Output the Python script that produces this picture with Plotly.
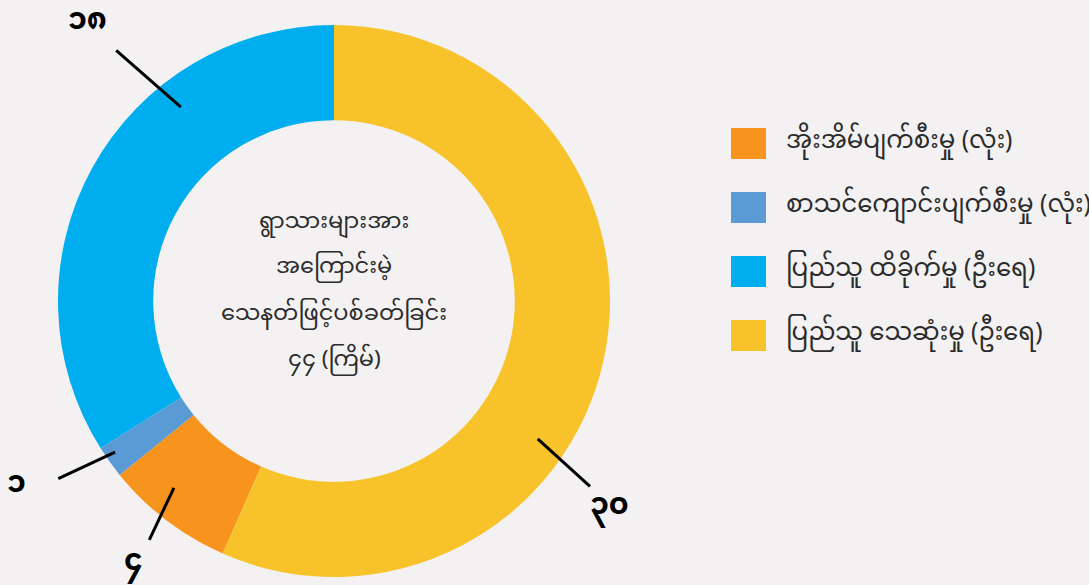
import math
import plotly.graph_objects as go

# slice order goes clockwise from the orange slice
LABELS = [
    "အိုးအိမ်ပျက်စီးမှု (လုံး)",
    "စာသင်ကျောင်းပျက်စီးမှု (လုံး)",
    "ပြည်သူ ထိခိုက်မှု (ဦးရေ)",
    "ပြည်သူ သေဆုံးမှု (ဦးရေ)",
]
VALUES = [4, 1, 18, 30]
VALUE_TEXT = ["၄", "၁", "၁၈", "၃၀"]
COLORS = ["#F7941E", "#5B9BD5", "#00AEEF", "#F8C32A"]
CENTER_LINES = [
    "ရွာသားများအား",
    "အကြောင်းမဲ့",
    "သေနတ်ဖြင့်ပစ်ခတ်ခြင်း",
    "၄၄ (ကြိမ်)",
]

W, H = 1089, 585
BG = "#F3F1F2"
FONT = "Noto Sans Myanmar, Noto Sans, sans-serif"

# pie geometry in pixels
CX, CY, R = 334, 301, 276
HOLE = 0.655

# leader line placement as (angle clockwise from 12 o'clock, radius px)
LINE_START = [(220.6, 246), (235.4, 266), (321.7, 247), (124.1, 246)]
LINE_END = [(217.7, 302), (237.2, 328), (319.0, 332), (125.9, 316)]
TEXT_POS = [(217.5, 330), (239.9, 367), (318.6, 372), (126.7, 344)]


def px(x):
    return x / W


def py(y):
    return 1 - y / H


def polar(p):
    a = math.radians(p[0])
    return CX + p[1] * math.sin(a), CY - p[1] * math.cos(a)


fig = go.Figure(
    go.Pie(
        labels=LABELS,
        values=VALUES,
        marker=dict(colors=COLORS, line=dict(width=0)),
        hole=HOLE,
        sort=False,
        direction="clockwise",
        rotation=360 * VALUES[-1] / sum(VALUES),
        textinfo="none",
        hoverinfo="label+value",
        showlegend=False,
        domain=dict(x=[px(CX - R), px(CX + R)], y=[py(CY + R), py(CY - R)]),
    )
)

shapes = []
annotations = []

# leader lines and value labels
for i, txt in enumerate(VALUE_TEXT):
    x0, y0 = polar(LINE_START[i])
    x1, y1 = polar(LINE_END[i])
    tx, ty = polar(TEXT_POS[i])
    shapes.append(
        dict(
            type="line", xref="paper", yref="paper",
            x0=px(x0), y0=py(y0), x1=px(x1), y1=py(y1),
            line=dict(color="black", width=3),
        )
    )
    annotations.append(
        dict(
            text=f"<b>{txt}</b>", xref="paper", yref="paper",
            x=px(tx), y=py(ty),
            showarrow=False, xanchor="center", yanchor="middle",
            font=dict(size=30, color="black", family=FONT),
        )
    )

# centre text, one annotation per line for the tall Myanmar line height
for j, line in enumerate(CENTER_LINES):
    annotations.append(
        dict(
            text=line, xref="paper", yref="paper",
            x=px(CX), y=py(222 + 46 * j),
            showarrow=False, xanchor="center", yanchor="middle",
            font=dict(size=22.5, color="#2b2b2b", family=FONT),
        )
    )

# legend with large swatches
for k, lab in enumerate(LABELS):
    top = 128 + 64 * k
    shapes.append(
        dict(
            type="rect", xref="paper", yref="paper",
            x0=px(731), x1=px(766), y0=py(top + 31), y1=py(top),
            fillcolor=COLORS[k], line=dict(width=0),
        )
    )
    annotations.append(
        dict(
            text=lab, xref="paper", yref="paper",
            x=px(784), y=py(top + 14), showarrow=False,
            xanchor="left", yanchor="middle",
            font=dict(size=24.5, color="#2b2b2b", family=FONT),
        )
    )

fig.update_layout(
    width=W,
    height=H,
    margin=dict(l=0, r=0, t=0, b=0),
    paper_bgcolor=BG,
    plot_bgcolor=BG,
    shapes=shapes,
    annotations=annotations,
)

fig.write_html(
    "out.html",
    config={"displayModeBar": False},
    post_script="document.body.style.margin='0';"
    f"document.body.style.background='{BG}';",
)
